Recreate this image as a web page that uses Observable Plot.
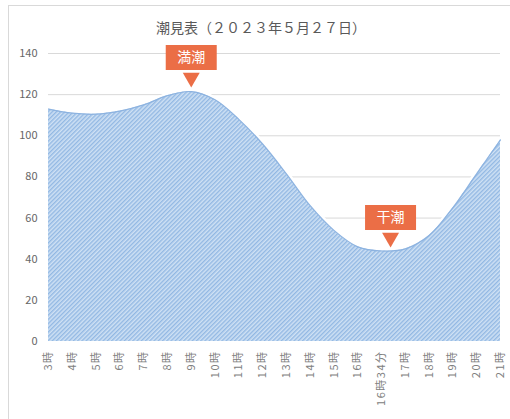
<!DOCTYPE html>
<html>
<head>
<meta charset="utf-8">
<script src="https://cdn.jsdelivr.net/npm/d3@7"></script>
<script src="https://cdn.jsdelivr.net/npm/@observablehq/plot@0.6"></script>
<style>
  html, body { margin: 0; background: #fff; font-family: "Noto Sans CJK JP", sans-serif; overflow: hidden; }
  #frame { position: absolute; left: 8px; top: 5px; width: 600px; height: 600px; border: 1px solid #d9d9d9; pointer-events: none; }
  #title { margin-left: 8px; width: 506px; height: 40px; box-sizing: border-box; padding-top: 17px; line-height: 20px; text-align: center; font-size: 14px; color: #595959; }
  #chart svg { display: block; }
  #chart g[aria-label="x-axis tick label"] text { letter-spacing: 1.5px; }
</style>
</head>
<body>
<div id="frame"></div>
<div id="title">潮見表（２０２３年５月２７日）</div>
<div id="chart"></div>
<script>
const times = ["3時","4時","5時","6時","7時","8時","9時","10時","11時","12時","13時","14時","15時","16時","16時34分","17時","18時","19時","20時","21時"];
const levels = [113,111,110.5,112,115,119.5,121.5,117.5,108,96,81.5,66,54,46,44,45,51.5,65,81.5,98];
const yTicks = [0,20,40,60,80,100,120,140];

const markerLabels = ["満潮","干潮"];
const markerTimes = ["9時","16時34分"];
const markerLevels = [123.5,45.7];
const markerShift = [0,9];

const data = times.map((t,i) => ({time: t, level: levels[i]}));
const markers = markerLabels.map((l,i) => ({label: l, time: markerTimes[i], level: markerLevels[i], shift: markerShift[i]}));

const orange = "#eb6e46";
const boxSymbol = { draw(ctx) { ctx.rect(-25.5, -12.5, 51, 25); } };

const defs = () => {
  const g = d3.create("svg:g");
  const p = g.append("defs").append("pattern")
    .attr("id","hatch").attr("patternUnits","userSpaceOnUse")
    .attr("width",3).attr("height",3).attr("patternTransform","rotate(45)");
  p.append("rect").attr("width",3).attr("height",3).attr("fill","#cfe1f4");
  p.append("rect").attr("width",1.4).attr("height",3).attr("fill","#92b8e3");
  return g.node();
};

const chart = Plot.plot({
  width: 510, height: 379,
  marginLeft: 48, marginRight: 10, marginTop: 13, marginBottom: 78,
  x: {type: "point", domain: times, padding: 0, round: false},
  y: {domain: [0,140]},
  style: {fontFamily: "'Noto Sans CJK JP', sans-serif", background: "transparent"},
  marks: [
    defs,
    Plot.gridY({ticks: yTicks.filter(d => d > 0), stroke: "#d9d9d9", strokeOpacity: 1}),
    Plot.lineY(data, {x: "time", y: "level", stroke: "white", strokeWidth: 6, curve: "catmull-rom"}),
    Plot.areaY(data, {x: "time", y: "level", fill: "url(#hatch)", curve: "catmull-rom"}),
    Plot.lineY(data, {x: "time", y: "level", stroke: "#8db3e0", strokeWidth: 1.2, curve: "catmull-rom"}),
    ...markers.flatMap(m => [
      Plot.dot([m], {x: "time", y: "level", symbol: boxSymbol, r: 1, fill: orange, stroke: null, dx: m.shift, dy: -30}),
      Plot.dot([m], {x: "time", y: "level", symbol: "triangle", rotate: 180, r: 6.3, fill: orange, stroke: null, dx: m.shift, dy: -9.8}),
      Plot.text([m], {x: "time", y: "level", text: "label", fill: "white", fontSize: 14, dx: m.shift, dy: -30})
    ]),
    Plot.axisY({ticks: yTicks, tickSize: 0, tickPadding: 11, fontSize: 11, fill: "#666", label: null}),
    Plot.axisX({tickRotate: -90, tickSize: 0, tickPadding: 9, fontSize: 11, fill: "#808080", label: null})
  ]
});
document.getElementById("chart").appendChild(chart);
</script>
</body>
</html>
